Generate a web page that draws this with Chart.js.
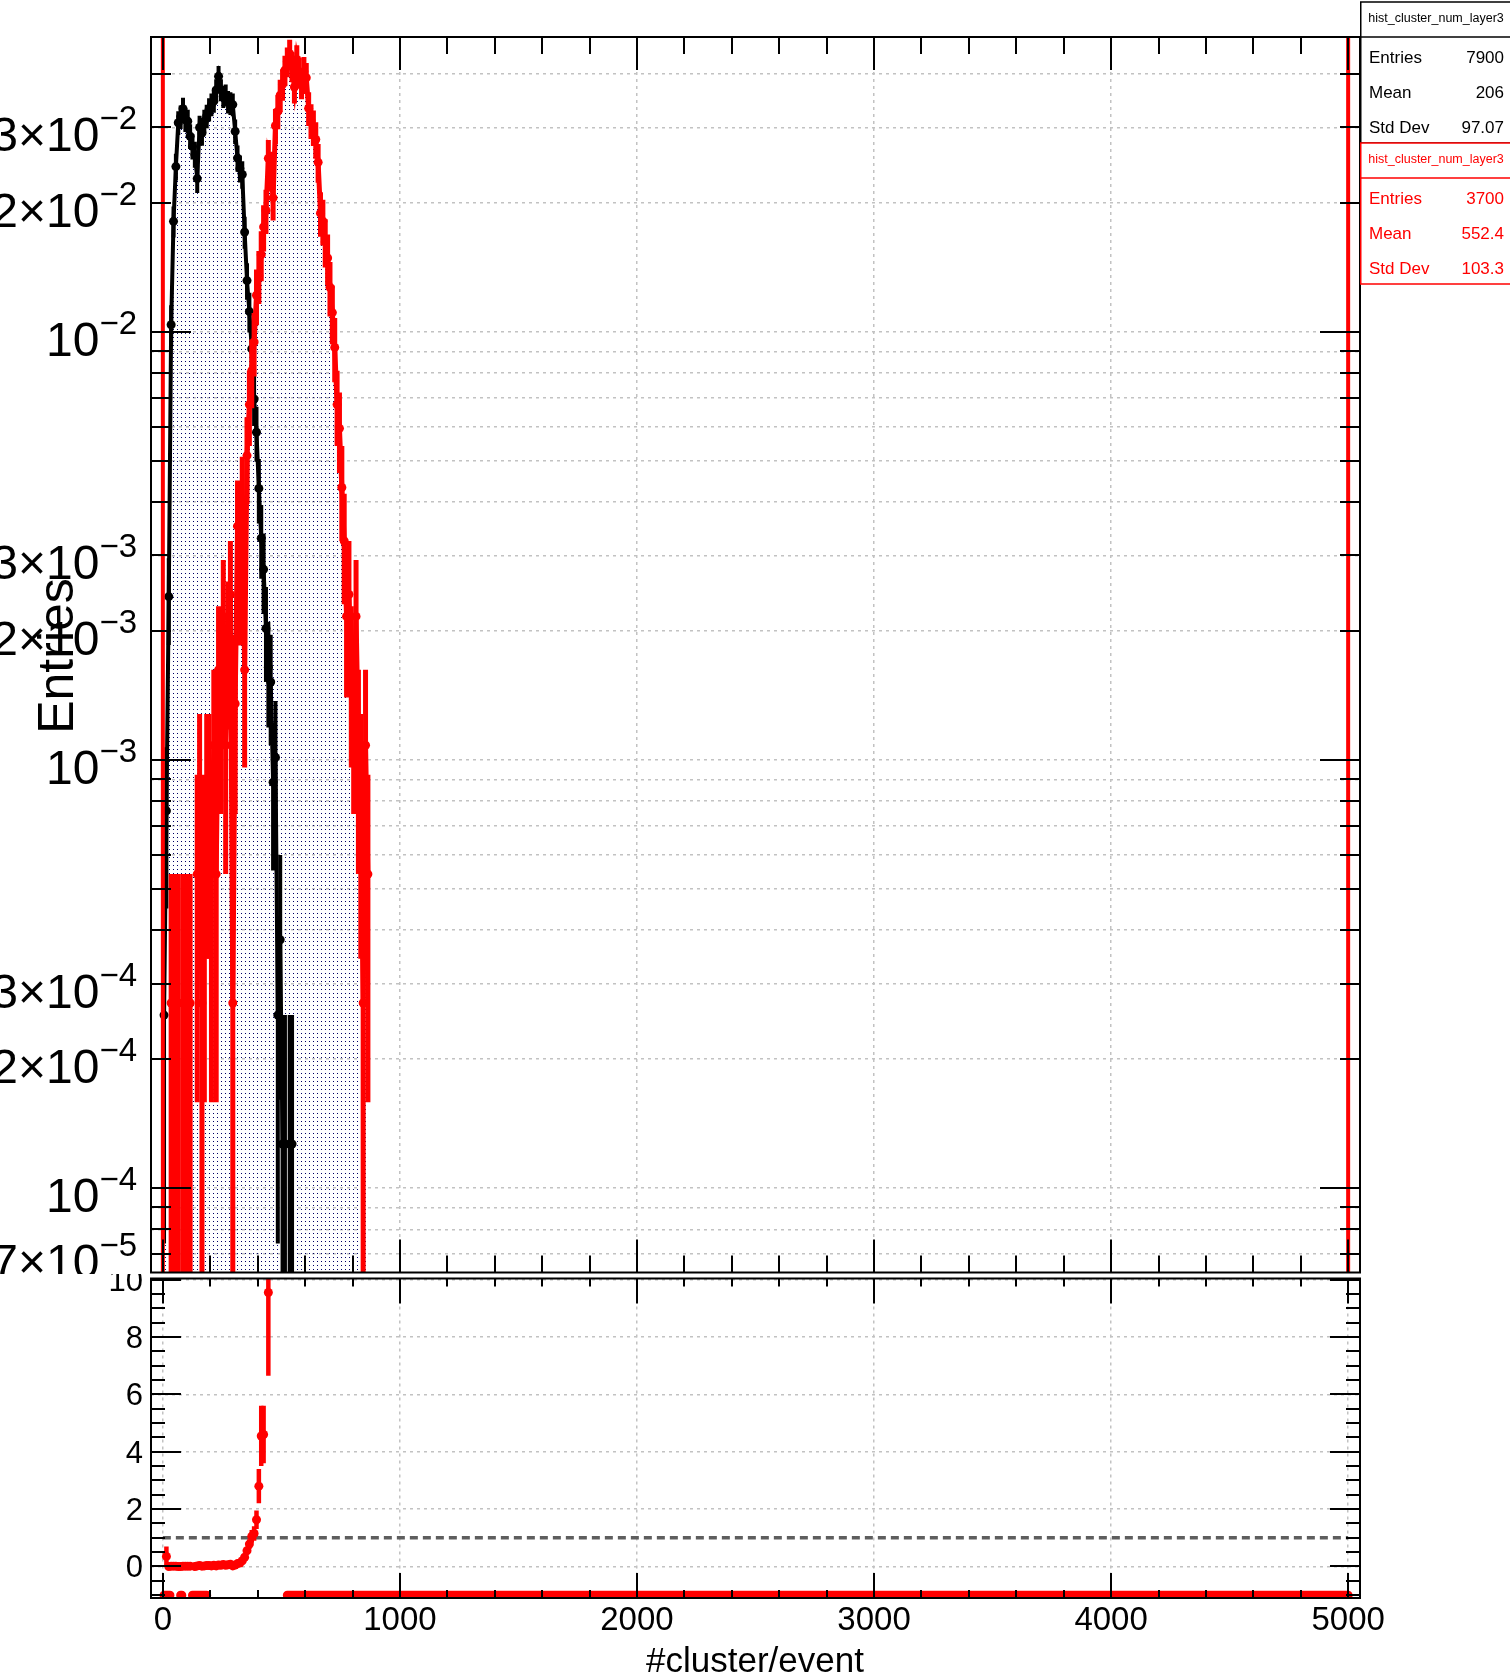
<!DOCTYPE html>
<html>
<head>
<meta charset="utf-8">
<title>hist_cluster_num_layer3</title>
<script src="https://cdn.jsdelivr.net/npm/chart.js@4.4.1/dist/chart.umd.min.js"></script>
<style>
  html, body { margin: 0; padding: 0; background: #fff; }
  #page { position: relative; width: 1510px; height: 1678px; overflow: hidden; }
  #mainCanvas { position: absolute; left: 0; top: 0; }
  #ratioCanvas { position: absolute; left: 0; top: 1274px; background: #fff; }
</style>
</head>
<body>
<div id="page">
  <canvas id="mainCanvas" width="1510" height="1277"></canvas>
  <canvas id="ratioCanvas" width="1510" height="404"></canvas>
</div>
<script>
const FONT = '"Liberation Sans", Arial, sans-serif';
const RED = '#ff0000';
const GRID = '#c2c2c2';

// both histograms: 10 units per bin, first bin starts at 0
const binStart = 0;
const binWidth = 10;

const xMin = -50, xMax = 5050;
const yMinTop = 6.34e-5, yMaxTop = 0.0488;
const yMinRatio = -1.1, yMaxRatio = 10.04;

const blackEntries = 7900;
const redEntries = 3700;

// counts per bin (bin centers 5, 15, 25, ...)
const blackCounts = [
  2, 6, 19, 82, 143, 192, 243, 251, 262, 247,
  245, 226, 214, 205, 180, 237, 230, 245, 252, 261,
  268, 273, 290, 312, 290, 280, 282, 272, 270, 268,
  232, 201, 190, 184, 135, 104, 88, 72, 55, 46,
  34, 26, 22, 16, 13, 12, 7, 8, 2, 3,
  1, 1, 0, 1, 1
];
const redCounts = [
  0, 0, 0, 1, 1, 1, 1, 0, 1, 1,
  1, 1, 0, 0, 2, 3, 1, 2, 3, 3,
  2, 4, 2, 6, 5, 8, 4, 7, 9, 1,
  5, 13, 10, 15, 6, 19, 25, 30, 35, 45,
  50, 56, 65, 71, 94, 88, 76, 112, 121, 132,
  140, 151, 158, 165, 154, 138, 160, 149, 141, 150,
  145, 123, 115, 111, 104, 92, 70, 67, 60, 55,
  47, 41, 34, 25, 22, 16, 12, 8, 9, 6,
  5, 8, 4, 3, 1, 4, 2
];

// ratio pad
const ratioX = [15, 25, 35, 45, 55, 65, 75, 85, 95, 105, 115,
  135, 145, 155, 165, 175, 185, 195, 205, 215, 225, 235, 245, 255, 265, 275, 285, 295, 305, 315,
  325, 335, 345, 355, 365, 375, 385, 395, 405, 415, 425, 445];
const ratioY = [0.35, 0, 0.01, 0.01, 0.01, 0, 0, 0.01, 0.01, 0.01, 0.01,
  0, 0.02, 0.03, 0.01, 0.02, 0.03, 0.03, 0.02, 0.04, 0.02, 0.05, 0.04, 0.07, 0.04, 0.06, 0.08, 0.02, 0.05, 0.1,
  0.12, 0.2, 0.32, 0.55, 0.78, 1.05, 1.15, 1.63, 2.8, 4.55, 4.6, 9.55];
const ratioErr = [0.35, 0, 0.01, 0.01, 0.01, 0, 0, 0.01, 0.01, 0.01, 0.01,
  0, 0.02, 0.02, 0.01, 0.02, 0.02, 0.02, 0.02, 0.02, 0.02, 0.03, 0.02, 0.03, 0.02, 0.03, 0.03, 0.02, 0.03, 0.04,
  0.05, 0.07, 0.1, 0.14, 0.17, 0.22, 0.25, 0.32, 0.6, 1.05, 1.0, 2.9];

// bins with no valid ratio, drawn on the lower edge
const ratioUndefRanges = [[5, 30], [75, 80], [125, 185], [525, 5000]];
const ratioUndefY = -1;

const refLineX = [0, 5000];
const refLineY = [1, 1];

const redEdgeX = [0, 5000];

const xLabels = [0, 1000, 2000, 3000, 4000, 5000];
const topYLabels = [[3, -2], [2, -2], [1, -2], [3, -3], [2, -3], [1, -3], [3, -4], [2, -4], [1, -4], [7, -5]];
const ratioYLabels = [0, 2, 4, 6, 8, 10];

const statsBoxes = [
  { color: '#000', top: 2, name: 'hist_cluster_num_layer3', rows: [['Entries', '7900'], ['Mean', '206'], ['Std Dev', '97.07']] },
  { color: RED, top: 143, name: 'hist_cluster_num_layer3', rows: [['Entries', '3700'], ['Mean', '552.4'], ['Std Dev', '103.3']] }
];

function histData(counts, entries) {
  return counts.map((n, i) => ({ x: binStart + (i + 0.5) * binWidth, y: n > 0 ? n / entries : null }));
}
function histErr(counts, entries) {
  return counts.map(n => Math.sqrt(n) / entries);
}

function xTickList(majorLen, minorLen) {
  const out = [];
  for (let v = 0; v <= 5000; v += 200) out.push([v, v % 1000 === 0 ? majorLen : minorLen]);
  return out;
}
function logTickList(lo, hi) {
  const out = [];
  for (let e = -5; e <= -1; e++) {
    for (let m = 1; m <= 9; m++) {
      const v = m * Math.pow(10, e);
      if (v >= lo && v <= hi) out.push([v, m === 1 ? 40 : 20]);
    }
  }
  return out;
}
function linTickList(lo, hi) {
  const out = [];
  for (let v = -1; v <= 10; v += 0.5) {
    if (v >= lo && v <= hi) out.push([v, v % 2 === 0 ? 30 : 14]);
  }
  return out;
}

const topYTicks = logTickList(yMinTop, yMaxTop);
const ratioYTicks = linTickList(yMinRatio, yMaxRatio);

function seg(ctx, x1, y1, x2, y2) {
  ctx.beginPath();
  ctx.moveTo(x1, y1);
  ctx.lineTo(x2, y2);
  ctx.stroke();
}

// dotted fill like ROOT fill style
const dots = (() => {
  const c = document.createElement('canvas');
  c.width = 4; c.height = 4;
  const g = c.getContext('2d');
  g.fillStyle = '#000066';
  g.fillRect(1, 1, 1, 1);
  return g.createPattern(c, 'repeat');
})();

// vertical error bars, drawn right after their own dataset
const errorBars = {
  id: 'errorBars',
  afterDatasetDraw(chart, args) {
    const ds = chart.data.datasets[args.index];
    if (!ds.errors) return;
    const { ctx, chartArea: a, scales: { y } } = chart;
    ctx.save();
    ctx.beginPath();
    ctx.rect(a.left, a.top, a.right - a.left, a.bottom - a.top);
    ctx.clip();
    ctx.strokeStyle = ds.borderColor;
    ctx.lineWidth = ds.errorWidth;
    ds.data.forEach((p, i) => {
      if (p.y == null || !ds.errors[i]) return;
      const pt = args.meta.data[i];
      const lo = p.y - ds.errors[i];
      const hi = p.y + ds.errors[i];
      const yLo = lo > y.min ? y.getPixelForValue(lo) : a.bottom + 5;
      const yHi = hi < y.max ? y.getPixelForValue(hi) : a.top - 5;
      seg(ctx, pt.x, yLo, pt.x, yHi);
    });
    ctx.restore();
  }
};

// frame with inside ticks on all four sides
function rootPad(id, xTicks, yTicks, extras) {
  return {
    id,
    afterDraw(chart) {
      const { ctx, chartArea: a, scales: { x, y } } = chart;
      ctx.save();
      ctx.strokeStyle = '#000';
      ctx.lineWidth = 2;
      xTicks.forEach(([v, len]) => {
        const px = Math.round(x.getPixelForValue(v));
        seg(ctx, px, a.top, px, a.top + len);
        seg(ctx, px, a.bottom, px, a.bottom - len);
      });
      yTicks.forEach(([v, len]) => {
        const py = Math.round(y.getPixelForValue(v));
        seg(ctx, a.left, py, a.left + len, py);
        seg(ctx, a.right, py, a.right - len, py);
      });
      ctx.strokeRect(a.left, a.top, a.right - a.left, a.bottom - a.top);
      ctx.restore();
      extras(chart);
    }
  };
}

function drawPowLabel(ctx, mant, exp, xRight, yTick) {
  const main = mant === 1 ? '10' : mant + '\u00d710';
  const sup = '\u2212' + Math.abs(exp);
  ctx.font = '33px ' + FONT;
  const wSup = ctx.measureText(sup).width;
  ctx.font = '48px ' + FONT;
  const wMain = ctx.measureText(main).width;
  const base = yTick + 24;
  ctx.textAlign = 'left';
  ctx.textBaseline = 'alphabetic';
  ctx.fillText(main, xRight - wSup - wMain, base);
  ctx.font = '33px ' + FONT;
  ctx.fillText(sup, xRight - wSup, base - 22);
}

function drawStats(ctx, box) {
  const left = 1360.75, w = 200, t = box.top;
  ctx.save();
  ctx.strokeStyle = box.color;
  ctx.fillStyle = '#fff';
  ctx.lineWidth = 1.5;
  ctx.fillRect(left, t, w, 141);
  ctx.strokeRect(left, t, w, 141);
  seg(ctx, left, t + 35, left + w, t + 35);
  ctx.fillStyle = box.color;
  ctx.textBaseline = 'alphabetic';
  ctx.font = '12.5px ' + FONT;
  ctx.textAlign = 'center';
  ctx.fillText(box.name, 1436, t + 20);
  ctx.font = '17px ' + FONT;
  box.rows.forEach(([k, v], i) => {
    const yb = t + 61 + i * 35;
    ctx.textAlign = 'left';
    ctx.fillText(k, 1369, yb);
    ctx.textAlign = 'right';
    ctx.fillText(v, 1504, yb);
  });
  ctx.restore();
}

const redEdges = {
  id: 'redEdges',
  afterDatasetsDraw(chart) {
    const { ctx, chartArea: a, scales: { x } } = chart;
    ctx.save();
    ctx.strokeStyle = RED;
    ctx.lineWidth = 4;
    redEdgeX.forEach(v => {
      const px = x.getPixelForValue(v);
      seg(ctx, px, a.top, px, a.bottom);
    });
    ctx.restore();
  }
};

const topPad = rootPad('topPad', xTickList(33, 17), topYTicks, chart => {
  const { ctx, scales: { y } } = chart;
  ctx.save();
  ctx.fillStyle = '#000';
  topYLabels.forEach(([m, e]) => drawPowLabel(ctx, m, e, 137, y.getPixelForValue(m * Math.pow(10, e))));
  ctx.translate(73, 656);
  ctx.rotate(-Math.PI / 2);
  ctx.font = '50px ' + FONT;
  ctx.textAlign = 'center';
  ctx.textBaseline = 'alphabetic';
  ctx.fillText('Entries', 0, 0);
  ctx.restore();
  statsBoxes.forEach(b => drawStats(ctx, b));
});

const ratioPad = rootPad('ratioPad', xTickList(25, 8), ratioYTicks, chart => {
  const { ctx, scales: { x, y } } = chart;
  ctx.save();
  ctx.fillStyle = '#000';
  ctx.textBaseline = 'alphabetic';
  ctx.font = '31px ' + FONT;
  ctx.textAlign = 'right';
  ratioYLabels.forEach(v => ctx.fillText(String(v), 143, y.getPixelForValue(v) + 11));
  ctx.font = '33px ' + FONT;
  ctx.textAlign = 'center';
  xLabels.forEach(v => ctx.fillText(String(v), x.getPixelForValue(v), 356));
  ctx.font = '35px ' + FONT;
  ctx.fillText('#cluster/event', 755, 398);
  ctx.restore();
});

function xScale(heightFix) {
  return {
    type: 'linear', min: xMin, max: xMax,
    afterBuildTicks: s => { s.ticks = xLabels.map(v => ({ value: v })); },
    afterFit: s => { s.height = heightFix; },
    ticks: { display: false },
    grid: { color: GRID, lineWidth: 1.5, drawTicks: false },
    border: { display: false, dash: [3, 4] }
  };
}

new Chart(document.getElementById('mainCanvas'), {
  type: 'line',
  data: {
    datasets: [
      {
        label: 'hist_cluster_num_layer3',
        data: histData(blackCounts, blackEntries),
        errors: histErr(blackCounts, blackEntries),
        errorWidth: 4,
        borderColor: '#000', borderWidth: 4,
        backgroundColor: dots, fill: 'start',
        pointRadius: 4.5, pointHoverRadius: 4.5,
        pointBackgroundColor: '#000', pointBorderColor: '#000', pointBorderWidth: 0,
        tension: 0, spanGaps: false, order: 2
      },
      {
        label: 'hist_cluster_num_layer3',
        data: histData(redCounts, redEntries),
        errors: histErr(redCounts, redEntries),
        errorWidth: 5,
        borderColor: RED, borderWidth: 5,
        backgroundColor: dots, fill: 'start',
        pointRadius: 4.5, pointHoverRadius: 4.5,
        pointBackgroundColor: RED, pointBorderColor: RED, pointBorderWidth: 0,
        tension: 0, spanGaps: false, order: 1
      }
    ]
  },
  options: {
    responsive: false,
    animation: false,
    devicePixelRatio: 1,
    layout: { padding: { left: 0, right: 150, top: 37, bottom: 0 } },
    plugins: {
      legend: { display: false },
      tooltip: { enabled: false },
      filler: { drawTime: 'beforeDatasetsDraw' }
    },
    scales: {
      x: xScale(0),
      y: {
        type: 'logarithmic', min: yMinTop, max: yMaxTop,
        afterBuildTicks: s => { s.ticks = topYTicks.map(([v]) => ({ value: v })); },
        afterFit: s => { s.width = 151; },
        ticks: { display: false },
        grid: { color: GRID, lineWidth: 1.5, drawTicks: false },
        border: { display: false, dash: [3, 4] }
      }
    }
  },
  plugins: [errorBars, redEdges, topPad]
});

function undefRowData() {
  const out = [];
  ratioUndefRanges.forEach(([a, b]) => {
    out.push({ x: a, y: ratioUndefY }, { x: b, y: ratioUndefY }, { x: b + 1, y: null });
  });
  return out;
}

new Chart(document.getElementById('ratioCanvas'), {
  type: 'line',
  data: {
    datasets: [
      {
        label: 'ratio',
        data: ratioX.map((x, i) => ({ x, y: ratioY[i] })),
        errors: ratioErr,
        errorWidth: 4.5,
        showLine: false,
        borderColor: RED,
        pointRadius: 4.5, pointHoverRadius: 4.5,
        pointBackgroundColor: RED, pointBorderColor: RED, pointBorderWidth: 0,
        order: 1
      },
      {
        label: 'undefined',
        data: undefRowData(),
        borderColor: RED, borderWidth: 9, borderCapStyle: 'round',
        pointRadius: 0, spanGaps: false, fill: false, clip: 0,
        order: 2
      },
      {
        label: 'one',
        data: refLineX.map((x, i) => ({ x, y: refLineY[i] })),
        borderColor: '#5e5e5e', borderWidth: 3.5, borderDash: [8, 5],
        pointRadius: 0, fill: false,
        order: 3
      }
    ]
  },
  options: {
    responsive: false,
    animation: false,
    devicePixelRatio: 1,
    layout: { padding: { left: 0, right: 150, top: 3, bottom: 80 } },
    plugins: {
      legend: { display: false },
      tooltip: { enabled: false }
    },
    scales: {
      x: xScale(0),
      y: {
        type: 'linear', min: yMinRatio, max: yMaxRatio,
        afterBuildTicks: s => { s.ticks = ratioYLabels.map(v => ({ value: v })); },
        afterFit: s => { s.width = 151; },
        ticks: { display: false },
        grid: { color: GRID, lineWidth: 1.5, drawTicks: false },
        border: { display: false, dash: [3, 4] }
      }
    }
  },
  plugins: [errorBars, ratioPad]
});
</script>
</body>
</html>
